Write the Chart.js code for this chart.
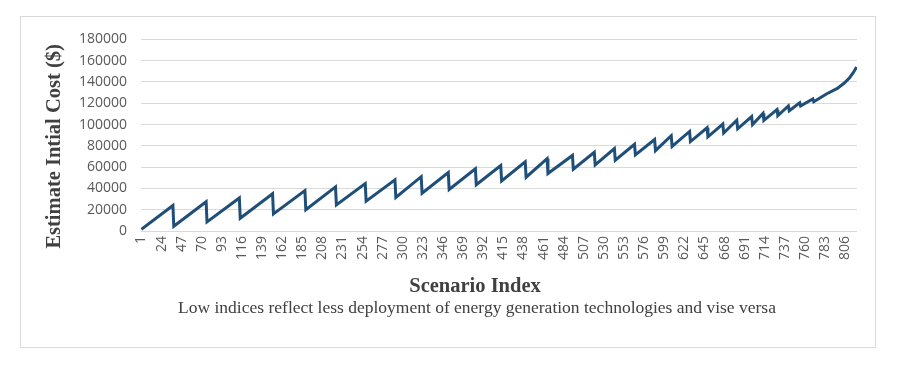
<!DOCTYPE html>
<html>
<head>
<meta charset="utf-8">
<script src="https://cdn.jsdelivr.net/npm/chart.js@4/dist/chart.umd.min.js"></script>
<style>
	body { margin: 0; background: #fff; }
	#frame { position: absolute; left: 20px; top: 16px; width: 856px; height: 332px; border: 1px solid #d9d9d9; box-sizing: border-box; }
	canvas { display: block; }
</style>
</head>
<body>
<div id="frame"><canvas id="chart" width="854" height="330"></canvas></div>
<script>
// vertices of the sawtooth curve
const scenarioIdx = [1, 37, 38, 75, 76, 113, 114, 151, 152, 188, 189, 223, 224, 257, 258, 291, 292,
	321, 322, 352, 353, 383, 384, 412, 413, 440, 441, 465, 466, 494, 495, 519, 520, 542, 543,
	565, 566, 588, 589, 607, 608, 628, 629, 648, 649, 666, 667, 682, 683, 699, 700, 712, 713,
	728, 729, 741, 742, 754, 755, 769, 770, 785, 797, 805, 811, 815, 819];
const initialCost = [1500, 24000, 4500, 27500, 8500, 31000, 12000, 35000, 16000, 38000, 20000,
	41500, 24500, 44500, 28000, 48000, 31500, 51000, 35500, 55000, 39000, 58500, 43500,
	61500, 47000, 65000, 50500, 68000, 54000, 71000, 58000, 74000, 62000, 77500, 66500,
	81500, 71500, 86000, 75500, 89500, 79500, 93500, 84000, 97000, 88500, 100500, 92000,
	104000, 96000, 107500, 100000, 110500, 104000, 114000, 108500, 117500, 113000,
	120500, 117500, 124000, 121500, 129000, 134000, 139000, 144000, 148500, 154000];

const xTickLabels = [1, 24, 47, 70, 93, 116, 139, 162, 185, 208, 231, 254, 277, 300, 323, 346,
	369, 392, 415, 438, 461, 484, 507, 530, 553, 576, 599, 622, 645, 668, 691, 714, 737, 760, 783, 806];
const yTicks = [0, 20000, 40000, 60000, 80000, 100000, 120000, 140000, 160000, 180000];

const yTitle = 'Estimate Intial Cost ($)';
const xTitle = 'Scenario Index';
const caption = 'Low indices reflect less deployment of energy generation technologies and vise versa';

const points = scenarioIdx.map((x, i) => ({ x: x, y: initialCost[i] }));

const tickFont = { family: 'Open Sans', size: 14 };

// axis titles and the caption sit off-centre in the original, so they are drawn here
const titlesPlugin = {
	id: 'titles',
	afterDraw(chart) {
		const ctx = chart.ctx;
		const a = chart.chartArea;
		ctx.save();
		ctx.fillStyle = '#404040';
		ctx.textAlign = 'center';
		ctx.textBaseline = 'middle';
		ctx.font = 'bold 20.5px "Liberation Serif"';
		ctx.fillText(xTitle, a.left + 334, a.bottom + 56);
		ctx.font = '17.5px "Liberation Serif"';
		ctx.fillText(caption, a.left + 336, a.bottom + 77);
		ctx.translate(34, a.top + 107);
		ctx.rotate(-Math.PI / 2);
		ctx.font = 'bold 20.5px "Liberation Serif"';
		ctx.fillText(yTitle, 0, 0);
		ctx.restore();
	}
};

new Chart(document.getElementById('chart'), {
	type: 'line',
	data: {
		datasets: [{
			data: points,
			borderColor: '#1f4e79',
			borderWidth: 3,
			pointRadius: 0,
			tension: 0,
			fill: false
		}]
	},
	options: {
		responsive: false,
		animation: false,
		layout: { padding: { left: 18, right: 18, top: 18, bottom: 48 } },
		plugins: {
			legend: { display: false },
			tooltip: { enabled: false }
		},
		scales: {
			x: {
				type: 'linear',
				min: 0.5,
				max: 819.5,
				afterBuildTicks: s => { s.ticks = xTickLabels.map(v => ({ value: v })); },
				afterFit: s => { s.height = 68; },
				grid: { display: false, drawTicks: false },
				border: { display: false },
				ticks: {
					autoSkip: false,
					minRotation: 90,
					maxRotation: 90,
					padding: 5,
					color: '#595959',
					font: tickFont,
					callback: v => String(v)
				}
			},
			y: {
				min: 0,
				max: 180000,
				afterBuildTicks: s => { s.ticks = yTicks.map(v => ({ value: v })); },
				afterFit: s => { s.width = 102; },
				grid: { color: '#d9d9d9', lineWidth: 1, drawTicks: false },
				border: { display: false },
				ticks: {
					padding: 14,
					color: '#595959',
					font: tickFont,
					callback: v => String(v)
				}
			}
		}
	},
	plugins: [titlesPlugin]
});
</script>
</body>
</html>
